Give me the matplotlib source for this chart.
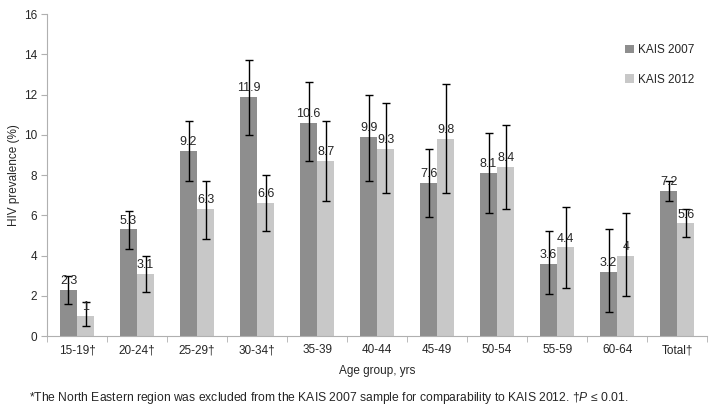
#!/usr/bin/env python3
"""HIV prevalence by age group, KAIS 2007 vs KAIS 2012."""
import matplotlib

matplotlib.use("Agg")
import matplotlib.pyplot as plt
import numpy as np

plt.rcParams["font.family"] = ["Liberation Sans", "DejaVu Sans"]
plt.rcParams["mathtext.fontset"] = "custom"
plt.rcParams["mathtext.it"] = "Liberation Sans:italic"
plt.rcParams["mathtext.rm"] = "Liberation Sans"

age_groups = ["15-19†", "20-24†", "25-29†", "30-34†", "35-39", "40-44",
              "45-49", "50-54", "55-59", "60-64", "Total†"]

kais_2007 = [2.3, 5.3, 9.2, 11.9, 10.6, 9.9, 7.6, 8.1, 3.6, 3.2, 7.2]
low_2007 = [1.6, 4.3, 7.7, 10.0, 8.7, 7.7, 5.9, 6.1, 2.1, 1.2, 6.7]
high_2007 = [3.0, 6.2, 10.7, 13.7, 12.6, 12.0, 9.3, 10.1, 5.2, 5.3, 7.7]

kais_2012 = [1.0, 3.1, 6.3, 6.6, 8.7, 9.3, 9.8, 8.4, 4.4, 4.0, 5.6]
low_2012 = [0.5, 2.2, 4.8, 5.2, 6.7, 7.1, 7.1, 6.3, 2.4, 2.0, 4.9]
high_2012 = [1.7, 4.0, 7.7, 8.0, 10.7, 11.6, 12.5, 10.5, 6.4, 6.1, 6.3]

DARK = "#8e8e8e"
LIGHT = "#c8c8c8"
AXIS = "#b0b0b0"

fig = plt.figure(figsize=(7.18, 4.13), dpi=100)
ax = fig.add_axes([0.0655, 0.1864, 0.9195, 0.7797])

x = np.arange(len(age_groups))
w = 0.285

series = [
    (kais_2007, low_2007, high_2007, DARK, "KAIS 2007", -w / 2),
    (kais_2012, low_2012, high_2012, LIGHT, "KAIS 2012", w / 2),
]
for vals, lo, hi, color, label, off in series:
    vals = np.array(vals)
    err = [vals - np.array(lo), np.array(hi) - vals]
    ax.bar(x + off, vals, width=w, color=color, label=label, zorder=2)
    ax.errorbar(x + off, vals, yerr=err, fmt="none", ecolor="black",
                elinewidth=1, capsize=3, capthick=1, zorder=3)
    for xi, v in zip(x + off, vals):
        ax.annotate(f"{v:g}", (xi, v), xytext=(0, 2), textcoords="offset points",
                    ha="center", va="bottom", fontsize=9, color="#262626", zorder=4)

ax.set_xlim(-0.5, len(age_groups) - 0.5)
ax.set_ylim(0, 16)
ax.set_yticks(np.arange(0, 17, 2))
ax.set_xticks(x)
ax.set_xticklabels(age_groups)
ax.set_xticks(np.arange(-0.5, len(age_groups), 1), minor=True)
ax.tick_params(axis="x", which="major", length=0, pad=6, labelsize=8.5, labelcolor="#262626")
ax.tick_params(axis="x", which="minor", length=4, color=AXIS)
ax.tick_params(axis="y", length=4, color=AXIS, labelsize=8.5, labelcolor="#262626", pad=3)

for side in ["top", "right"]:
    ax.spines[side].set_visible(False)
for side in ["left", "bottom"]:
    ax.spines[side].set_color(AXIS)

ax.set_ylabel("HIV prevalence (%)", fontsize=8.5, color="#262626", labelpad=3)
ax.set_xlabel("Age group, yrs", fontsize=8.5, color="#262626", labelpad=6)

ax.legend(loc="upper left", bbox_to_anchor=(0.86, 0.94), frameon=False,
          fontsize=8.5, handlelength=0.7, handleheight=0.7, handletextpad=0.4,
          labelspacing=1.5, labelcolor="#262626")

fig.text(0.04, 0.03,
         "*The North Eastern region was excluded from the KAIS 2007 sample "
         "for comparability to KAIS 2012. †$\\mathit{P}$ ≤ 0.01.",
         fontsize=8.7, color="#262626")

fig.savefig("out.png", dpi=100)
